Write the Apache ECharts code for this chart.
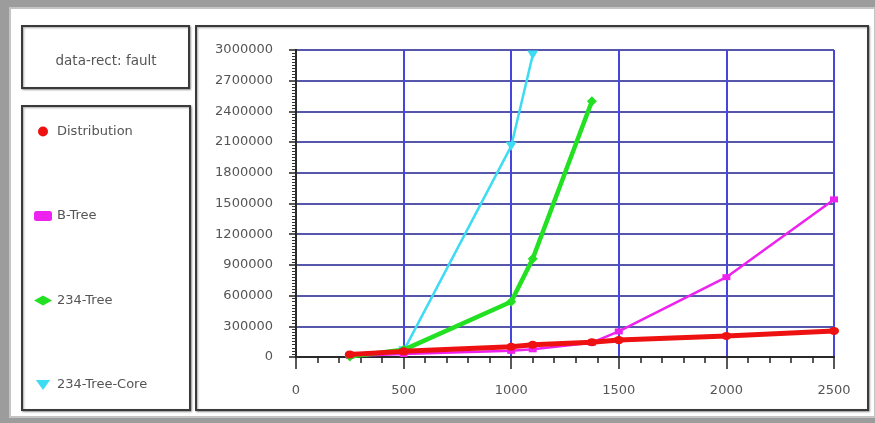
<!DOCTYPE html>
<html>
<head>
<meta charset="utf-8">
<script src="https://cdn.jsdelivr.net/npm/echarts@6/dist/echarts.min.js"></script>
<style>
  html, body { margin: 0; padding: 0; background: #9c9c9c; }
  #chart { width: 875px; height: 423px; }
</style>
</head>
<body>
<div id="chart"></div>
<script>
// ---- data ----
const xValues = [250, 500, 1000, 1100, 1375, 1500, 2000, 2500];
const distribution = [25000, 55000, 100000, 120000, 145000, 165000, 205000, 255000];
const bTree = [10000, 30000, 60000, 75000, 140000, 250000, 780000, 1540000];
const tree234 = [5000, 70000, 540000, 960000, 2500000, null, null, null];
const tree234Core = [null, 60000, 2060000, 2950000, null, null, null, null];
const seriesNames = ['Distribution', 'B-Tree', '234-Tree', '234-Tree-Core'];
const chartTitle = 'data-rect: fault';
const xTicks = { min: 0, max: 2500, step: 500 };
const yTicks = { min: 0, max: 3000000, step: 300000 };

function pairs(vals) {
  const out = [];
  xValues.forEach((x, i) => { if (vals[i] !== null) out.push([x, vals[i]]); });
  return out;
}

const FONT = 'DejaVu Sans';
const chart = echarts.init(document.getElementById('chart'), null, { width: 875, height: 423 });

const boxStyle = { fill: '#ffffff', stroke: '#3a3a3a', lineWidth: 2, shadowBlur: 2, shadowColor: 'rgba(0,0,0,0.35)', shadowOffsetX: 1, shadowOffsetY: 1 };

const option = {
  backgroundColor: '#9c9c9c',
  animation: false,
  graphic: [
    { type: 'rect', z: -20, silent: true, shape: { x: 10, y: 8, width: 865, height: 409 }, style: { fill: '#ffffff', stroke: '#c4c4c4', lineWidth: 2 } },
    { type: 'rect', z: -10, silent: true, shape: { x: 22, y: 26, width: 167, height: 62 }, style: boxStyle },
    { type: 'rect', z: -10, silent: true, shape: { x: 22, y: 106, width: 168, height: 304 }, style: boxStyle },
    { type: 'rect', z: -10, silent: true, shape: { x: 196, y: 26, width: 672, height: 384 }, style: boxStyle }
  ],
  title: {
    text: chartTitle,
    left: 101,
    top: 49,
    textAlign: 'center',
    textStyle: { fontFamily: FONT, fontSize: 13.5, fontWeight: 'normal', color: '#555' }
  },
  legend: {
    orient: 'vertical',
    left: 34,
    top: 125,
    padding: 0,
    itemGap: 71.5,
    itemWidth: 18,
    itemHeight: 10,
    itemTextGap: 8,
    textStyle: { fontFamily: FONT, fontSize: 13, color: '#555' },
    data: [
      { name: seriesNames[0], icon: 'circle' },
      { name: seriesNames[1], icon: 'roundRect' },
      { name: seriesNames[2], icon: 'diamond' },
      { name: seriesNames[3], icon: 'path://M0,0 L10,0 L5,7 Z' }
    ]
  },
  grid: { left: 296, top: 50, width: 538, height: 307, containLabel: false },
  xAxis: [
    {
      type: 'value', min: xTicks.min, max: xTicks.max, interval: xTicks.step,
      axisLine: { show: true, onZero: false, lineStyle: { color: '#111', width: 2 } },
      axisTick: { show: true, length: 12, lineStyle: { color: '#222', width: 1.5 } },
      minorTick: { show: true, splitNumber: 5, length: 6, lineStyle: { color: '#222', width: 1.5 } },
      splitLine: { show: true, lineStyle: { color: '#4646de', width: 2 } },
      axisLabel: { margin: 27, fontFamily: FONT, fontSize: 13, color: '#555', formatter: v => String(v) }
    },
    {
      type: 'value', position: 'top', min: xTicks.min, max: xTicks.max,
      axisLine: { show: true, lineStyle: { color: '#333', width: 1.5 } },
      axisTick: { show: false }, axisLabel: { show: false }, splitLine: { show: false }
    }
  ],
  yAxis: [
    {
      type: 'value', min: yTicks.min, max: yTicks.max, interval: yTicks.step,
      axisLine: { show: true, onZero: false, lineStyle: { color: '#111', width: 2 } },
      axisTick: { show: true, length: 7, lineStyle: { color: '#222', width: 1.5 } },
      minorTick: { show: true, splitNumber: 10, length: 4, lineStyle: { color: '#333', width: 1 } },
      splitLine: { show: true, lineStyle: { color: '#1e1e8e', width: 1.5 } },
      axisLabel: { margin: 23, fontFamily: FONT, fontSize: 13, color: '#555', formatter: v => String(v) }
    },
    {
      type: 'value', position: 'right', min: yTicks.min, max: yTicks.max,
      axisLine: { show: true, lineStyle: { color: '#333', width: 1.5 } },
      axisTick: { show: false }, axisLabel: { show: false }, splitLine: { show: false }
    }
  ],
  series: [
    {
      name: seriesNames[1], type: 'line', z: 2, data: pairs(bTree),
      symbol: 'rect', symbolSize: [8, 6],
      lineStyle: { color: '#ee22ee', width: 2.5 }, itemStyle: { color: '#ee22ee' }
    },
    {
      name: seriesNames[3], type: 'line', z: 3, data: pairs(tree234Core),
      symbol: 'triangle', symbolRotate: 180, symbolSize: [11, 9],
      lineStyle: { color: '#3ddcf2', width: 2.5 }, itemStyle: { color: '#3ddcf2' }
    },
    {
      name: seriesNames[2], type: 'line', z: 4, data: pairs(tree234),
      symbol: 'diamond', symbolSize: [10, 10],
      lineStyle: { color: '#22e022', width: 4.5 }, itemStyle: { color: '#22e022' }
    },
    {
      name: seriesNames[0], type: 'line', z: 5, data: pairs(distribution),
      symbol: 'circle', symbolSize: [10, 8],
      lineStyle: { color: '#ee1111', width: 5 }, itemStyle: { color: '#ee1111' }
    }
  ]
};
option.color = ['#ee1111', '#ee22ee', '#22e022', '#3ddcf2'];
chart.setOption(option);
</script>
</body>
</html>
